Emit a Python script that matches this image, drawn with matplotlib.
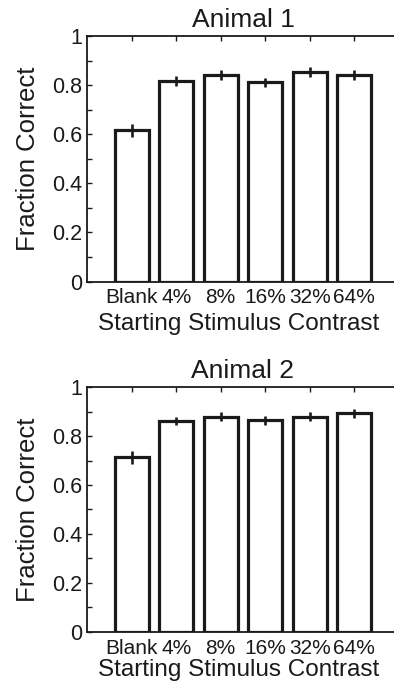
import matplotlib
matplotlib.use("Agg")
import matplotlib.pyplot as plt
from matplotlib.ticker import MultipleLocator
import numpy as np

categories = ["Blank", "4%", "8%", "16%", "32%", "64%"]
titles = ["Animal 1", "Animal 2"]
animal1_vals = [0.616, 0.818, 0.841, 0.811, 0.852, 0.840]
animal1_err = [0.027, 0.020, 0.020, 0.020, 0.020, 0.020]
animal2_vals = [0.713, 0.862, 0.880, 0.865, 0.880, 0.894]
animal2_err = [0.025, 0.018, 0.018, 0.018, 0.018, 0.018]
yticks = [0, 0.2, 0.4, 0.6, 0.8, 1]
ytick_labels = ["0", "0.2", "0.4", "0.6", "0.8", "1"]

plt.rcParams['font.family'] = ['Liberation Sans', 'DejaVu Sans']

fig = plt.figure(figsize=(3.94, 6.82), dpi=100)
ax_pos = [[0.2216, 0.5872, 0.790, 0.3600], [0.2216, 0.0738, 0.790, 0.3584]]
xlabel_y = [-0.1976, -0.181]
data = [(animal1_vals, animal1_err), (animal2_vals, animal2_err)]
ink = "#1a1a1a"

for pos, (vals, errs), title, xly in zip(ax_pos, data, titles, xlabel_y):
    ax = fig.add_axes(pos)
    x = np.arange(1, len(categories) + 1)
    ax.bar(x, vals, width=0.77, color="white", edgecolor=ink, linewidth=2.3, zorder=2)
    ax.errorbar(x, vals, yerr=errs, fmt="none", ecolor=ink, elinewidth=1.9, capsize=0, zorder=3)
    ax.set_xlim(0, 7)
    ax.set_ylim(0, 1)
    ax.set_xticks(x)
    ax.set_xticklabels(categories, fontsize=15)
    ax.set_yticks(yticks)
    ax.set_yticklabels(ytick_labels, fontsize=15.5)
    ax.yaxis.set_minor_locator(MultipleLocator(0.1))
    ax.tick_params(axis="both", which="both", direction="in", length=3.5, width=1, color=ink)
    ax.tick_params(axis="x", top=True, bottom=True, pad=5)
    ax.tick_params(axis="y", which="both", left=True, right=False, pad=4)
    for s in ["left", "top", "bottom"]:
        ax.spines[s].set_linewidth(1.3)
        ax.spines[s].set_color(ink)
    ax.spines["right"].set_visible(False)
    ax.set_ylabel("Fraction Correct", fontsize=18.5, color=ink)
    ax.yaxis.label.set_va("baseline")
    ax.yaxis.set_label_coords(-0.168, 0.5)
    ax.set_xlabel("Starting Stimulus Contrast", fontsize=17.5, color=ink)
    ax.xaxis.label.set_va("baseline")
    ax.xaxis.set_label_coords(0.4865, xly)
    ax.set_title(title, fontsize=19, pad=6.5, color=ink)
    for lbl in ax.get_xticklabels() + ax.get_yticklabels():
        lbl.set_color(ink)

fig.savefig("out.png", dpi=100)
